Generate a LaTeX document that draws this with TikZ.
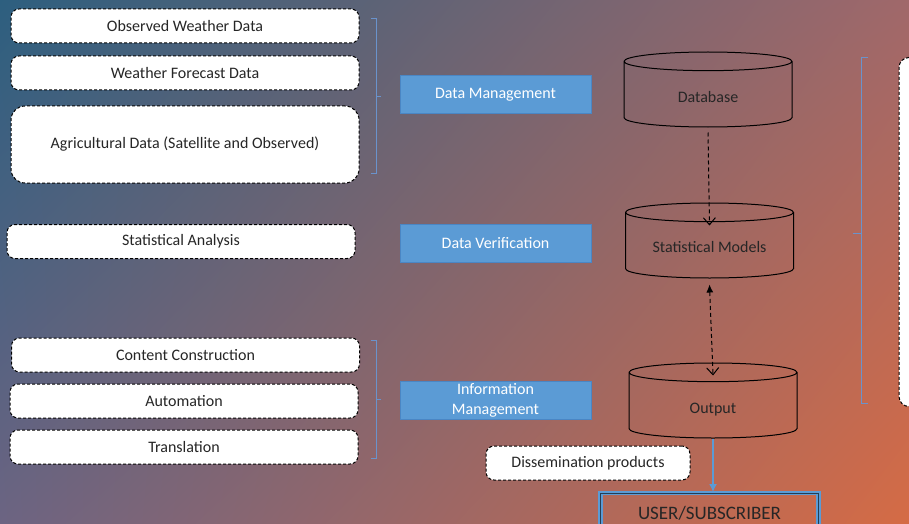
\documentclass[tikz,border=0pt]{standalone}
\usepackage{fontspec}
\setmainfont{Carlito}
\usetikzlibrary{positioning,shapes.geometric,arrows.meta,shadings}

\definecolor{bgtl}{HTML}{2D5F7F}
\definecolor{bgtr}{HTML}{A0686A}
\definecolor{bgbl}{HTML}{6C6482}
\definecolor{bgbr}{HTML}{D56B45}
\definecolor{boxblue}{HTML}{5B9BD5}
\definecolor{boxedge}{HTML}{4A86C4}
\definecolor{bracecol}{HTML}{6A93CC}
\definecolor{txt}{HTML}{262626}

\begin{document}
\begin{tikzpicture}
		[x=1pt,y=-1pt,
		every node/.style={font=\fontsize{16}{20}\selectfont},
		srcbox/.style={draw=black,fill=white,densely dashed,line width=1pt,
			rounded corners=8pt,minimum width=348pt,minimum height=34pt,text=txt},
		tagbox/.style={draw=boxedge,fill=boxblue,line width=1pt,minimum width=191pt,
			minimum height=38pt,text=white,align=center,inner sep=1pt},
		store/.style={cylinder,shape border rotate=90,aspect=0.28,draw=black,anchor=shape center,
			line width=1pt,minimum width=168pt,minimum height=75pt,text width=60pt,
			text height=11pt,text depth=9pt},
		storetext/.style={text=txt,inner sep=0pt},
		bracket/.style={draw=bracecol,line width=0.8pt},
		flow/.style={draw=black,line width=1pt,dash pattern=on 4pt off 3pt}]
		\clip (0,0) rectangle (909,524);
		\shade[upper left=bgtl,upper right=bgtr,lower left=bgbl,lower right=bgbr]
			(0,0) rectangle (909,524);
		% inputs on the left
		\node[srcbox] (obs) at (185,26) {Observed Weather Data};
		\node[srcbox] (fcst) at (185,73) {Weather Forecast Data};
		\node[srcbox,minimum height=77pt,rounded corners=14pt] (agri) at (185,144.5) {Agricultural Data (Satellite and Observed)};
		\node[srcbox] (stats) at (181,241.5) {Statistical Analysis};
		\node[srcbox] (content) at (185.5,355) {Content Construction};
		\node[srcbox] (auto) at (184,401) {Automation};
		\node[srcbox] (transl) at (184,447) {Translation};
		\node[srcbox,minimum width=204pt] (dissem) at (588,463) {Dissemination products};
		% stage labels
		\node[tagbox] (dm) at (495.5,95) {Data Management};
		\node[tagbox] (dv) at (495.5,243) {Data Verification};
		\node[tagbox] (im) at (495.5,400) {Information\\Management};
		% stores
		\node[store] (db) at (708,89.5) {};
		\node[store] (sm) at (709.5,240.5) {};
		\node[store] (out) at (713,400.5) {};
		\node[storetext] (dbname) at ([yshift=-7.5pt]db.shape center) {Database};
		\node[storetext] (smname) at ([yshift=-7pt]sm.shape center) {Statistical Models};
		\node[storetext] (outname) at ([yshift=-9pt]out.shape center) {Output};
		\node[draw=black,fill=white,densely dashed,line width=1pt,rounded corners=10pt,
			minimum width=100pt,minimum height=349pt] (notes) at (949,232) {};
		\node[draw=boxblue,line width=1.9pt,double=boxblue!40!black,double distance=1pt,
			minimum width=218pt,minimum height=40pt,font=\fontsize{19}{22}\selectfont,text=txt]
			(user) at (709.5,513) {USER/SUBSCRIBER};
		% brackets
		\draw[bracket] (371,18) -- (376,18) -- (376,173) -- (371,173);
		\draw[bracket] (376,96) -- (381,96);
		\draw[bracket] (371,340) -- (376,340) -- (376,458) -- (371,458);
		\draw[bracket] (376,399) -- (381,399);
		\draw[bracket] (868,57) -- (861,57) -- (861,403) -- (868,403);
		\draw[bracket] (861,233) -- (853,233);
		% connectors
		\draw[flow,-{Straight Barb[length=7pt,width=12pt]}] ([yshift=-5pt]db.south) -- ([yshift=-23pt]sm.north);
		\draw[flow,{Latex[length=8pt,width=7pt]}-{Straight Barb[length=7pt,width=12pt]}]
			([yshift=-6pt]sm.south) -- ([yshift=-13pt]out.north);
		\draw[draw=boxblue,line width=1.5pt,-{Latex[length=8pt,width=8pt]}] (out.south) -- (out.south |- user.north);
\end{tikzpicture}
\end{document}
